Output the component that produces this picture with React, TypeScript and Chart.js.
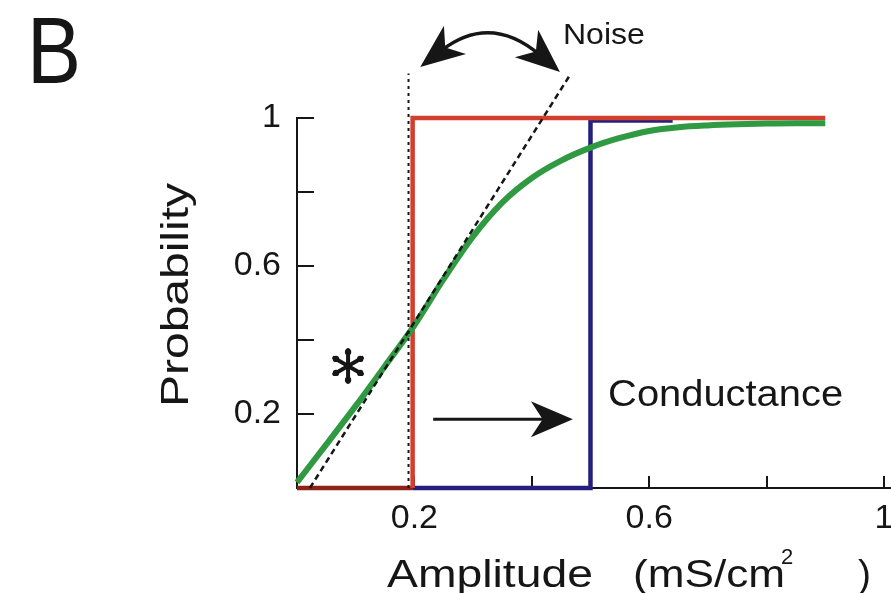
import { useEffect, useRef } from 'react';
import { Chart, registerables } from 'chart.js';

Chart.register(...registerables);

// ---- data ----
const xTickValues = [0, 0.2, 0.4, 0.6, 0.8, 1];
const xTickLabels = ['', '0.2', '', '0.6', '', '1'];
const yTickValues = [0, 0.2, 0.4, 0.6, 0.8, 1];
const yTickLabels = ['', '0.2', '', '0.6', '', '1'];

const redX = [0, 0.197, 0.197, 0.9];
const redY = [0, 0, 1, 1];
const blueX = [0.197, 0.5, 0.5, 0.64];
const blueY = [0, 0, 0.993, 0.993];
const greenX = [0, 0.05, 0.1, 0.15, 0.2, 0.25, 0.3, 0.35, 0.4, 0.45, 0.5, 0.55, 0.6, 0.65, 0.7, 0.75, 0.8, 0.85, 0.9];
const greenY = [0.015, 0.118, 0.222, 0.33, 0.44, 0.565, 0.68, 0.772, 0.838, 0.885, 0.92, 0.946, 0.965, 0.975, 0.98, 0.983, 0.985, 0.986, 0.986];
const tangentX = [0.022, 0.465];
const tangentY = [0, 1.116];
const thresholdX = [0.19, 0.19];
const thresholdY = [0, 1.12];

// ---- styles ----
const FONT = '"Liberation Sans", Arial, Helvetica, sans-serif';
const RED = '#d23f2e';
const DARK_RED = '#8e2216';
const BLUE = '#25207e';
const GREEN = '#2f9a41';
const INK = '#161616';

const zip = (xs: number[], ys: number[]) => xs.map((x, i) => ({ x, y: ys[i] }));
const labelFor = (values: number[], labels: string[]) => (v: any) => {
  const i = values.findIndex((t) => Math.abs(t - Number(v)) < 1e-9);
  return i >= 0 ? labels[i] : '';
};

function drawText(ctx: CanvasRenderingContext2D, text: string, x: number, y: number, size: number, targetW?: number, rotate?: boolean) {
  ctx.save();
  ctx.font = `${size}px ${FONT}`;
  ctx.fillStyle = INK;
  ctx.textAlign = 'left';
  ctx.textBaseline = 'alphabetic';
  const w = ctx.measureText(text).width;
  const sx = targetW ? targetW / w : 1;
  ctx.translate(x, y);
  if (rotate) ctx.rotate(-Math.PI / 2);
  ctx.scale(sx, 1);
  ctx.fillText(text, 0, 0);
  ctx.restore();
}

function arrowHead(ctx: CanvasRenderingContext2D, tx: number, ty: number, angle: number, len: number, halfW: number) {
  const bx = tx - Math.cos(angle) * len;
  const by = ty - Math.sin(angle) * len;
  const nx = -Math.sin(angle);
  const ny = Math.cos(angle);
  const mx = tx - Math.cos(angle) * len * 0.72;
  const my = ty - Math.sin(angle) * len * 0.72;
  ctx.beginPath();
  ctx.moveTo(tx, ty);
  ctx.lineTo(bx + nx * halfW, by + ny * halfW);
  ctx.lineTo(mx, my);
  ctx.lineTo(bx - nx * halfW, by - ny * halfW);
  ctx.closePath();
  ctx.fill();
}

// annotation anchors in data units
const noiseArc = { x0: 0.21, y0: 1.138, cx: 0.329, cy: 1.285, x1: 0.448, y1: 1.124 };
const shiftArrow = { x0: 0.232, x1: 0.47, y: 0.186 };
const starPos = { x: 0.087, y: 0.33 };
const noiseLabel = { x: 0.453, y: 1.2 };
const condLabel = { x: 0.53, y: 0.222 };

const annotationPlugin = {
  id: 'annotations',
  afterDraw(chart: any) {
    const ctx: CanvasRenderingContext2D = chart.ctx;
    const xs = chart.scales.x;
    const ys = chart.scales.y;
    const px = (v: number) => xs.getPixelForValue(v);
    const py = (v: number) => ys.getPixelForValue(v);

    ctx.save();
    ctx.fillStyle = INK;
    ctx.strokeStyle = INK;

    // curved double arrow (Noise)
    const p0 = { x: px(noiseArc.x0), y: py(noiseArc.y0) };
    const p1 = { x: px(noiseArc.cx), y: py(noiseArc.cy) };
    const p2 = { x: px(noiseArc.x1), y: py(noiseArc.y1) };
    const a0 = Math.atan2(p0.y - p1.y, p0.x - p1.x);
    const a2 = Math.atan2(p2.y - p1.y, p2.x - p1.x);
    const inset = 26;
    ctx.lineWidth = 3.5;
    ctx.beginPath();
    ctx.moveTo(p0.x - Math.cos(a0) * inset, p0.y - Math.sin(a0) * inset);
    ctx.quadraticCurveTo(p1.x, p1.y, p2.x - Math.cos(a2) * inset, p2.y - Math.sin(a2) * inset);
    ctx.stroke();
    arrowHead(ctx, p0.x, p0.y, a0, 44, 18);
    arrowHead(ctx, p2.x, p2.y, a2, 44, 18);

    // straight arrow (Conductance shift)
    const sy = py(shiftArrow.y);
    const sx0 = px(shiftArrow.x0);
    const sx1 = px(shiftArrow.x1);
    ctx.lineWidth = 3;
    ctx.beginPath();
    ctx.moveTo(sx0, sy);
    ctx.lineTo(sx1 - 20, sy);
    ctx.stroke();
    arrowHead(ctx, sx1, sy, 0, 42, 18);

    // asterisk
    const cx = px(starPos.x);
    const cy = py(starPos.y);
    ctx.lineWidth = 4;
    ctx.lineCap = 'round';
    for (let k = 0; k < 6; k++) {
      const ang = Math.PI / 2 + (k * Math.PI) / 3;
      const ex = cx + Math.cos(ang) * 16;
      const ey = cy - Math.sin(ang) * 16;
      ctx.beginPath();
      ctx.moveTo(cx, cy);
      ctx.lineTo(ex, ey);
      ctx.stroke();
      ctx.beginPath();
      ctx.arc(cx + Math.cos(ang) * 14, cy - Math.sin(ang) * 14, 3.2, 0, Math.PI * 2);
      ctx.fill();
    }
    ctx.restore();

    // texts
    drawText(ctx, 'Noise', px(noiseLabel.x), py(noiseLabel.y), 29, 82);
    drawText(ctx, 'Conductance', px(condLabel.x), py(condLabel.y), 36, 235);
    drawText(ctx, 'B', 27, 83, 94, 54);
    drawText(ctx, 'Probability', 188, 407, 38, 224, true);
    drawText(ctx, 'Amplitude', 387, 587, 39, 206);
    drawText(ctx, '(mS/cm', 633, 587, 39, 152);
    drawText(ctx, '2', 781, 564, 22);
    drawText(ctx, ')', 858, 587, 39);
  },
};

export default function App() {
  const ref = useRef<HTMLCanvasElement | null>(null);

  useEffect(() => {
    if (!ref.current) return;
    const chart = new Chart(ref.current, {
      type: 'scatter',
      data: {
        datasets: [
          {
            label: 'tangent',
            data: zip(tangentX, tangentY),
            showLine: true,
            borderColor: INK,
            borderWidth: 2.5,
            borderDash: [6, 4],
            pointRadius: 0,
            clip: false,
          } as any,
          {
            label: 'threshold',
            data: zip(thresholdX, thresholdY),
            showLine: true,
            borderColor: INK,
            borderWidth: 2,
            borderDash: [3, 4],
            pointRadius: 0,
            clip: false,
          },
          {
            label: 'probability',
            data: zip(greenX, greenY),
            showLine: true,
            borderColor: GREEN,
            borderWidth: 6,
            cubicInterpolationMode: 'monotone',
            pointRadius: 0,
            clip: false,
          },
          {
            label: 'noise-free',
            data: zip(redX, redY),
            showLine: true,
            borderColor: RED,
            borderWidth: 4.5,
            pointRadius: 0,
            clip: false,
            segment: { borderColor: (c: any) => (c.p0DataIndex === 0 ? DARK_RED : undefined) },
          },
          {
            label: 'conductance',
            data: zip(blueX, blueY),
            showLine: true,
            borderColor: BLUE,
            borderWidth: 4.5,
            pointRadius: 0,
            clip: false,
          },
        ],
      },
      options: {
        animation: false,
        responsive: false,
        events: [],
        layout: { padding: { top: 118, left: 0, right: 0, bottom: 0 } },
        plugins: { legend: { display: false }, tooltip: { enabled: false } },
        scales: {
          x: {
            type: 'linear',
            min: 0,
            max: 1.012,
            afterBuildTicks: (s: any) => {
              s.ticks = xTickValues.map((v) => ({ value: v }));
            },
            afterFit: (s: any) => {
              s.height = 105;
              s.paddingLeft = 0;
              s.paddingRight = 0;
            },
            ticks: {
              callback: labelFor(xTickValues, xTickLabels),
              font: { family: FONT, size: 34 },
              color: INK,
              padding: 22,
              maxRotation: 0,
              autoSkip: false,
            },
            grid: { drawOnChartArea: false, drawTicks: true, tickLength: -12, color: INK, lineWidth: 2 },
            border: { display: true, color: INK, width: 2 },
          },
          y: {
            type: 'linear',
            min: 0,
            max: 1,
            afterBuildTicks: (s: any) => {
              s.ticks = yTickValues.map((v) => ({ value: v }));
            },
            afterFit: (s: any) => {
              s.width = 297;
              s.paddingTop = 0;
              s.paddingBottom = 0;
            },
            ticks: {
              callback: labelFor(yTickValues, yTickLabels),
              font: { family: FONT, size: 34 },
              color: INK,
              padding: 33,
              autoSkip: false,
            },
            grid: { drawOnChartArea: false, drawTicks: true, tickLength: -17, color: INK, lineWidth: 2 },
            border: { display: true, color: INK, width: 2 },
          },
        },
      } as any,
      plugins: [annotationPlugin],
    });
    return () => chart.destroy();
  }, []);

  return (
    <div style={{ position: 'absolute', left: 0, top: 0, width: 891, height: 593, background: '#fff', overflow: 'hidden' }}>
      <canvas ref={ref} width={891} height={593} style={{ display: 'block' }} />
    </div>
  );
}
